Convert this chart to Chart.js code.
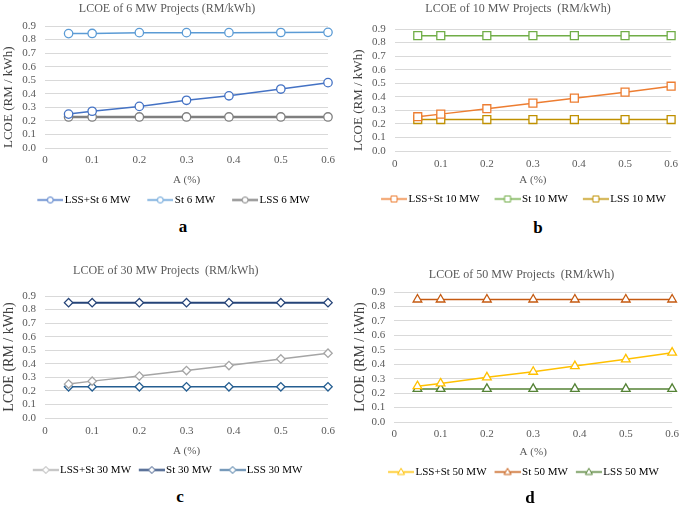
<!DOCTYPE html>
<html>
<head>
<meta charset="utf-8">
<script src="https://cdn.jsdelivr.net/npm/chart.js@4.4.1/dist/chart.umd.min.js"></script>
<style>
  body { margin: 0; width: 685px; height: 506px; background: #fff; position: relative; overflow: hidden;
         font-family: "Liberation Serif", "Times New Roman", serif; }
  canvas { position: absolute; }
  .tag { position: absolute; font-weight: bold; font-size: 17px; line-height: 17px; color: #000;
         transform: translate(-50%, -50%); }
</style>
</head>
<body>
<canvas id="chart6"></canvas>
<canvas id="chart10"></canvas>
<canvas id="chart30"></canvas>
<canvas id="chart50"></canvas>
<div class="tag" style="left:183px;top:226px">a</div>
<div class="tag" style="left:538px;top:227px">b</div>
<div class="tag" style="left:180px;top:496px">c</div>
<div class="tag" style="left:530px;top:497px">d</div>
<script>
// x values, A (%)
const shareA = [0.05, 0.1, 0.2, 0.3, 0.39, 0.5, 0.6];
const xTickLabels = ['0', '0.1', '0.2', '0.3', '0.4', '0.5', '0.6'];
const yTickLabels = ['0.0', '0.1', '0.2', '0.3', '0.4', '0.5', '0.6', '0.7', '0.8', '0.9'];

// 6 MW
const lssSt6 = [0.25, 0.271, 0.307, 0.352, 0.385, 0.435, 0.482];
const st6 = [0.844, 0.845, 0.851, 0.851, 0.851, 0.852, 0.853];
const lss6 = [0.229, 0.229, 0.229, 0.229, 0.229, 0.229, 0.229];
// 10 MW
const lssSt10 = [0.253, 0.272, 0.312, 0.353, 0.39, 0.434, 0.478];
const st10 = [0.851, 0.851, 0.851, 0.851, 0.851, 0.851, 0.851];
const lss10 = [0.232, 0.232, 0.232, 0.232, 0.232, 0.232, 0.232];
// 30 MW
const lssSt30 = [0.25, 0.272, 0.309, 0.35, 0.387, 0.436, 0.478];
const st30 = [0.851, 0.851, 0.851, 0.851, 0.851, 0.851, 0.851];
const lss30 = [0.23, 0.23, 0.23, 0.23, 0.23, 0.23, 0.23];
// 50 MW
const lssSt50 = [0.248, 0.267, 0.309, 0.348, 0.387, 0.434, 0.48];
const st50 = [0.848, 0.848, 0.848, 0.848, 0.848, 0.848, 0.848];
const lss50 = [0.229, 0.229, 0.229, 0.229, 0.229, 0.229, 0.229];

const FONT = '"Liberation Serif", "Times New Roman", serif';
const GREY = '#595959';
const LEG_PAD = 4;
const LEG_LINE = 26;

// legend sample: short line with a small marker on it
function legendIcon(color, shape, lineWidth, iconW) {
  const c = document.createElement('canvas');
  c.width = iconW; c.height = 11;
  const g = c.getContext('2d');
  const y = 5.5, cx = iconW - LEG_LINE / 2;
  g.strokeStyle = color;
  g.lineWidth = lineWidth;
  g.beginPath(); g.moveTo(iconW - LEG_LINE, y); g.lineTo(iconW, y); g.stroke();
  g.fillStyle = '#fff';
  g.lineWidth = 1;
  g.beginPath();
  if (shape === 'circle') g.arc(cx, y, 3, 0, Math.PI * 2);
  if (shape === 'rect') g.rect(cx - 3, y - 3, 6, 6);
  if (shape === 'rectRot') { g.moveTo(cx, y - 3.4); g.lineTo(cx + 3.4, y); g.lineTo(cx, y + 3.4); g.lineTo(cx - 3.4, y); g.closePath(); }
  if (shape === 'triangle') { g.moveTo(cx, y - 3.7); g.lineTo(cx + 3.5, y + 2.5); g.lineTo(cx - 3.5, y + 2.5); g.closePath(); }
  g.fill(); g.stroke();
  return c;
}

function makeChart(id, box, title, names, series, colors, widths, shape, radius) {
  const canvas = document.getElementById(id);
  const H = Math.ceil(box.legendMid + 15.5);
  canvas.width = box.width; canvas.height = H;
  canvas.style.left = box.left + 'px'; canvas.style.top = box.top + 'px';
  const legendTop = box.legendMid - 9.5;
  const boxW = box.legendGap + LEG_LINE - 4 - LEG_PAD;
  const iconW = Math.round(boxW + 8);

  const datasets = series.map((vals, i) => ({
    label: names[i],
    data: vals.map((v, j) => ({ x: shareA[j], y: v })),
    borderColor: colors[i],
    borderWidth: widths[i],
    pointStyle: shape,
    pointRadius: radius,
    pointHoverRadius: radius,
    pointBorderColor: colors[i],
    pointBackgroundColor: '#fff',
    pointBorderWidth: 1.3,
    tension: 0,
    clip: false,
    icon: legendIcon(colors[i], shape, Math.min(widths[i], 2), iconW)
  }));

  return new Chart(canvas, {
    type: 'line',
    data: { datasets },
    options: {
      responsive: false,
      animation: false,
      devicePixelRatio: 1,
      layout: { padding: { left: box.padL, right: box.padR, top: 0, bottom: H - box.legendMid - 15.5 } },
      plugins: {
        tooltip: { enabled: false },
        title: {
          display: true, text: title, color: GREY,
          font: { family: FONT, size: 12, weight: 'normal', lineHeight: 1.2 },
          padding: { top: box.titleMid - 5.2, bottom: box.plotTop - box.titleMid - 9.2 }
        },
        legend: {
          position: 'bottom',
          labels: {
            usePointStyle: true,
            pointStyleWidth: boxW,
            padding: LEG_PAD,
            color: GREY,
            font: { family: FONT, size: 11 },
            generateLabels: chart => chart.data.datasets.map((ds, i) => ({
              text: ds.label, pointStyle: ds.icon, datasetIndex: i,
              fillStyle: '#fff', strokeStyle: ds.borderColor, lineWidth: 0, hidden: false
            }))
          }
        }
      },
      scales: {
        x: {
          type: 'linear', min: 0, max: 0.6,
          afterFit: s => { s.height = legendTop - box.plotBottom; },
          grid: { display: false, drawTicks: false },
          border: { display: false },
          ticks: {
            stepSize: 0.1, autoSkip: false, maxRotation: 0, padding: box.tickMid - box.plotBottom - 6, color: GREY,
            font: { family: FONT, size: 11 },
            callback: v => xTickLabels[Math.round(v * 10)]
          },
          title: {
            display: true, text: 'A (%)', color: GREY,
            font: { family: FONT, size: 11, lineHeight: 1.2 },
            padding: { top: 0, bottom: legendTop - box.xTitleMid - 6.6 }
          }
        },
        y: {
          min: 0, max: 0.9,
          afterFit: s => { s.width = box.plotLeft - box.padL; },
          grid: { color: '#D9D9D9', lineWidth: 1, drawTicks: false },
          border: { display: false },
          ticks: {
            stepSize: 0.1, autoSkip: false, padding: 9, color: GREY,
            font: { family: FONT, size: 11 },
            callback: v => yTickLabels[Math.round(v * 10)]
          },
          title: {
            display: true, text: 'LCOE (RM / kWh)', color: '#404040', align: box.yAlign,
            font: { family: FONT, size: box.ySize, lineHeight: 1 },
            padding: { top: box.yTitleMid - box.padL - box.ySize / 2, bottom: 0 }
          }
        }
      }
    }
  });
}

// positions in each canvas, px
const box6 = { left: 0, top: 0, width: 342, padL: 6, padR: 14, plotLeft: 45, titleMid: 7, plotTop: 26, plotBottom: 148,
  tickMid: 160, xTitleMid: 180, legendMid: 200, legendGap: 17, yTitleMid: 9, ySize: 13, yAlign: 'start' };
const box10 = { left: 342, top: 0, width: 343, padL: 17, padR: 8, plotLeft: 52.7, titleMid: 7, plotTop: 29, plotBottom: 151,
  tickMid: 164, xTitleMid: 180, legendMid: 199, legendGap: 15, yTitleMid: 17, ySize: 13, yAlign: 'start' };
const box30 = { left: 0, top: 250, width: 342, padL: 3.5, padR: 14, plotLeft: 45, titleMid: 19, plotTop: 46, plotBottom: 168,
  tickMid: 181, xTitleMid: 201, legendMid: 220, legendGap: 7.5, yTitleMid: 9, ySize: 14, yAlign: 'center' };
const box50 = { left: 342, top: 250, width: 343, padL: 24, padR: 8, plotLeft: 52.3, titleMid: 23, plotTop: 42, plotBottom: 172,
  tickMid: 184, xTitleMid: 202, legendMid: 222, legendGap: 8, yTitleMid: 18, ySize: 14, yAlign: 'center' };

makeChart('chart6', box6, 'LCOE of 6 MW Projects (RM/kWh)',
  ['LSS+St 6 MW', 'St 6 MW', 'LSS 6 MW'], [lssSt6, st6, lss6],
  ['#4472C4', '#5B9BD5', '#7F7F7F'], [1.5, 1.5, 2.5], 'circle', 4.2);
makeChart('chart10', box10, 'LCOE of 10 MW Projects  (RM/kWh)',
  ['LSS+St 10 MW', 'St 10 MW', 'LSS 10 MW'], [lssSt10, st10, lss10],
  ['#ED7D31', '#70AD47', '#BF9000'], [1.5, 1.5, 1.5], 'rect', 5.6);
makeChart('chart30', box30, 'LCOE of 30 MW Projects  (RM/kWh)',
  ['LSS+St 30 MW', 'St 30 MW', 'LSS 30 MW'], [lssSt30, st30, lss30],
  ['#A5A5A5', '#264478', '#255E91'], [1.5, 2, 1.5], 'rectRot', 4.2);
makeChart('chart50', box50, 'LCOE of 50 MW Projects  (RM/kWh)',
  ['LSS+St 50 MW', 'St 50 MW', 'LSS 50 MW'], [lssSt50, st50, lss50],
  ['#FFC000', '#C55A11', '#548235'], [1.5, 1.5, 1.5], 'triangle', 5);
</script>
</body>
</html>
